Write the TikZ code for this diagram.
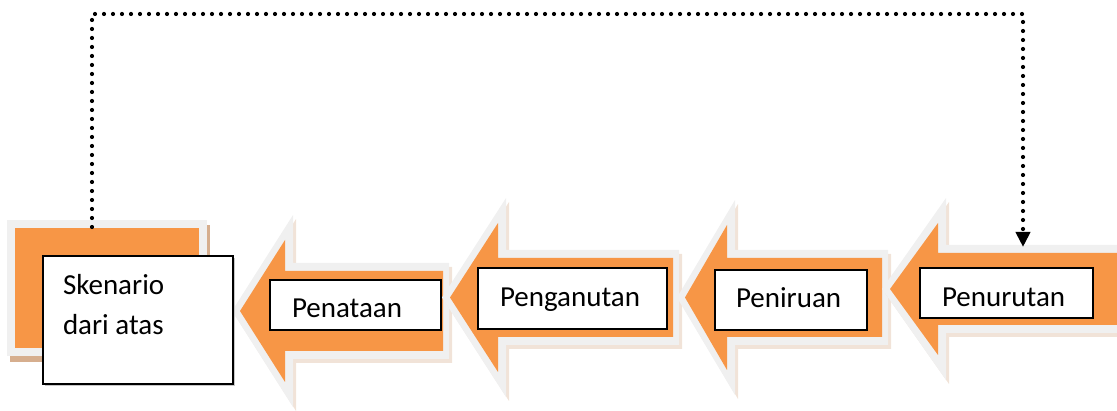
\documentclass[tikz,border=0pt]{standalone}
\usepackage{fontspec}
\setmainfont{Carlito}
\usetikzlibrary{arrows.meta,calc}
\definecolor{orangec}{HTML}{F79646}
\definecolor{bordc}{HTML}{F0F0F0}
\definecolor{shadc}{HTML}{D6AE8E}
\newcommand\barrow[6]{%
  \fill[shadc,opacity=0.35,shift={(3,4)}] (#1-8,#2) -- (#3+8,#2-#4-25) -- (#3+8,#2-#5-8) -- (#6+6,#2-#5-8) -- (#6+6,#2+#5+8) -- (#3+8,#2+#5+8) -- (#3+8,#2+#4+25) -- cycle;
  \fill[bordc] (#1-8,#2) -- (#3+8,#2-#4-25) -- (#3+8,#2-#5-8) -- (#6+6,#2-#5-8) -- (#6+6,#2+#5+8) -- (#3+8,#2+#5+8) -- (#3+8,#2+#4+25) -- cycle;
  \fill[orangec] (#1,#2) -- (#3,#2-#4) -- (#3,#2-#5) -- (#6,#2-#5) -- (#6,#2+#5) -- (#3,#2+#5) -- (#3,#2+#4) -- cycle;
}
\tikzset{
  wbox/.style={draw=black,fill=white,line width=1.6pt,rectangle,inner sep=0pt,outer sep=0pt},
  lbl/.style={inner sep=0pt,outer sep=0pt,font=\fontsize{29}{35}\selectfont,text=black},
  dotline/.style={line width=4.2pt,line cap=round,dash pattern=on 0pt off 9pt,-{Triangle[width=14pt,length=15pt]}},
  boxshadow/.style={fill=black!22}
}
\begin{document}
\begin{tikzpicture}[x=1pt,y=-1pt]
\useasboundingbox (0,0) rectangle (1117,411);
\clip (0,0) rectangle (1117,411);
% left square
\fill[shadc] (10,225) rectangle (210,362);
\node[fill=orangec,draw=bordc,line width=8pt,inner sep=0pt,outer sep=0pt,minimum width=192pt,minimum height=128pt] (sq) at (107,288) {};
% arrows
\barrow{240}{311}{285}{71}{40}{443}
\barrow{450}{297.5}{498}{74.5}{39.5}{673}
\barrow{685}{297.5}{727}{72.5}{39.5}{882}
\barrow{890}{289}{938}{66}{36}{1125}
% white boxes
\fill[boxshadow] (45,258) rectangle (235,386);
\node[wbox,minimum width=190pt,minimum height=128pt] (sk) at (138,320) {};
\node[lbl,anchor=base west] (ska) at (63,295) {Skenario};
\node[lbl,anchor=base west] (skb) at (63,335) {dari atas};
\node[wbox,minimum width=171pt,minimum height=50pt] (b1) at (355.5,305) {};
\node[lbl,anchor=base west] (t1) at (292,318) {Penataan};
\node[wbox,minimum width=189pt,minimum height=61pt] (b2) at (572.5,298.5) {};
\node[lbl,anchor=base west] (t2) at (500,307) {Penganutan};
\node[wbox,minimum width=152pt,minimum height=60pt] (b3) at (791,300) {};
\node[lbl,anchor=base west] (t3) at (736,308) {Peniruan};
\node[wbox,minimum width=173pt,minimum height=50pt] (b4) at (1006.5,293) {};
\node[lbl,anchor=base west] (t4) at (942,307) {Penurutan};
% dotted connector
\coordinate (src) at (92,227);
\coordinate (dst) at (1023,247);
\draw[dotline] (src) -- (92,14) -- (1023,14) -- (dst);
\end{tikzpicture}
\end{document}
